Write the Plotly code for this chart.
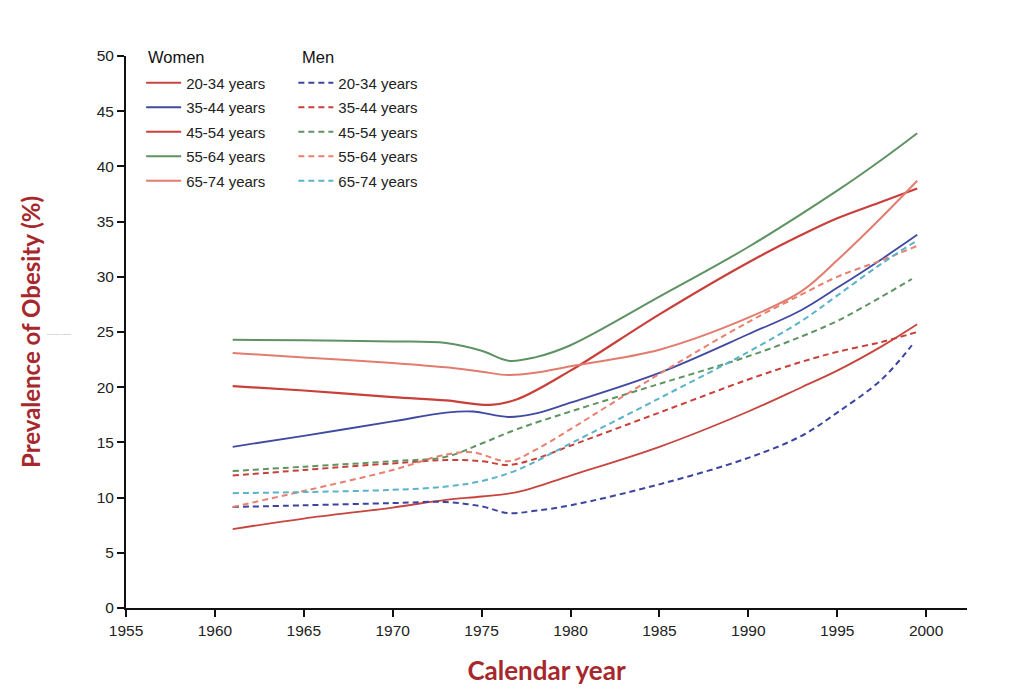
import plotly.graph_objects as go

# ---- data ----
age_groups = ["20-34 years", "35-44 years", "45-54 years", "55-64 years", "65-74 years"]

w20_years = [1961, 1965, 1970, 1973, 1975, 1977, 1980, 1985, 1990, 1993, 1995, 1997.5, 1999.5]
w20_vals  = [7.15, 8.1, 9.1, 9.8, 10.1, 10.5, 12.0, 14.6, 17.8, 20.0, 21.5, 23.7, 25.7]

w35_years = [1961, 1965, 1970, 1973, 1974.5, 1976.5, 1978, 1980, 1985, 1990, 1993, 1995, 1997.5, 1999.5]
w35_vals  = [14.6, 15.6, 16.9, 17.7, 17.8, 17.3, 17.6, 18.6, 21.3, 24.8, 27.0, 29.0, 31.6, 33.8]

w45_years = [1961, 1965, 1970, 1973, 1975.5, 1977, 1980, 1985, 1990, 1993, 1995, 1997.5, 1999.5]
w45_vals  = [20.1, 19.7, 19.1, 18.8, 18.4, 18.9, 21.5, 26.6, 31.3, 33.8, 35.3, 36.8, 38.0]

w55_years = [1961, 1965, 1970, 1973, 1975, 1976.5, 1978, 1980, 1985, 1990, 1995, 1997.5, 1999.5]
w55_vals  = [24.3, 24.25, 24.15, 24.0, 23.3, 22.4, 22.7, 23.8, 28.2, 32.7, 37.8, 40.6, 43.0]

w65_years = [1961, 1965, 1970, 1973, 1975, 1976.5, 1978, 1980, 1985, 1990, 1993, 1995, 1997.5, 1999.5]
w65_vals  = [23.1, 22.7, 22.2, 21.8, 21.4, 21.1, 21.3, 21.9, 23.4, 26.3, 28.7, 31.5, 35.4, 38.7]

m20_years = [1961, 1965, 1970, 1973, 1975, 1976.5, 1978, 1980, 1985, 1990, 1993, 1995, 1997.5, 1999.2]
m20_vals  = [9.15, 9.3, 9.5, 9.6, 9.2, 8.6, 8.8, 9.3, 11.2, 13.6, 15.6, 17.7, 20.7, 23.8]

m35_years = [1961, 1965, 1970, 1973, 1975, 1976.5, 1978, 1980, 1985, 1990, 1993, 1995, 1997.5, 1999.5]
m35_vals  = [12.0, 12.5, 13.1, 13.4, 13.3, 12.95, 13.5, 14.7, 17.7, 20.7, 22.3, 23.2, 24.1, 25.0]

m45_years = [1961, 1965, 1970, 1973, 1975, 1977, 1980, 1985, 1990, 1993, 1995, 1997.5, 1999.2]
m45_vals  = [12.4, 12.8, 13.3, 13.7, 14.9, 16.2, 17.8, 20.3, 22.8, 24.6, 26.0, 28.2, 29.8]

m55_years = [1961, 1965, 1970, 1973, 1974.5, 1976.5, 1978, 1980, 1985, 1990, 1993, 1995, 1997.5, 1999.5]
m55_vals  = [9.15, 10.6, 12.5, 13.9, 14.1, 13.3, 14.3, 16.2, 21.2, 25.9, 28.4, 30.0, 31.5, 32.8]

m65_years = [1961, 1965, 1970, 1973, 1975, 1977, 1980, 1985, 1990, 1993, 1995, 1997.5, 1999.5]
m65_vals  = [10.4, 10.5, 10.7, 11.0, 11.5, 12.5, 14.9, 19.0, 23.2, 26.0, 28.3, 31.2, 33.3]

x_ticks = [1955, 1960, 1965, 1970, 1975, 1980, 1985, 1990, 1995, 2000]
y_ticks = [0, 5, 10, 15, 20, 25, 30, 35, 40, 45, 50]

women = [(w20_years, w20_vals), (w35_years, w35_vals), (w45_years, w45_vals),
         (w55_years, w55_vals), (w65_years, w65_vals)]
men = [(m20_years, m20_vals), (m35_years, m35_vals), (m45_years, m45_vals),
       (m55_years, m55_vals), (m65_years, m65_vals)]

women_colors = ["#c8453f", "#3f4aa0", "#c9403a", "#5f9262", "#e27c6e"]
women_widths = [1.8, 1.8, 2.2, 2.0, 2.0]
men_colors = ["#3b45a0", "#c9403a", "#5f9462", "#e8806f", "#5ab3c9"]

fig = go.Figure()
for i, ((xs, ys), c, w) in enumerate(zip(women, women_colors, women_widths)):
    fig.add_trace(go.Scatter(x=xs, y=ys, mode="lines", name=age_groups[i],
                             line=dict(color=c, width=w, shape="spline", smoothing=1.0),
                             legend="legend", legendgroup="w%d" % i))
for i, ((xs, ys), c) in enumerate(zip(men, men_colors)):
    fig.add_trace(go.Scatter(x=xs, y=ys, mode="lines", name=age_groups[i],
                             line=dict(color=c, width=2.0, dash="6px,4px", shape="spline", smoothing=1.0),
                             legend="legend2", legendgroup="m%d" % i))

title_color = "#a6282c"
base_font = "Liberation Sans, Arial"
tick_font = dict(family=base_font, size=15.5, color="#222222")

leg_common = dict(font=dict(family=base_font, size=15, color="#222222"),
                  bgcolor="rgba(0,0,0,0)", traceorder="grouped", tracegroupgap=2,
                  xanchor="left", yanchor="top", itemwidth=35)

fig.update_layout(
    width=1016, height=688,
    margin=dict(l=118, r=57, t=48, b=88),
    paper_bgcolor="white", plot_bgcolor="white",
    showlegend=True,
    legend=dict(x=0.018, y=0.981, **leg_common),
    legend2=dict(x=0.199, y=0.981, **leg_common),
    xaxis=dict(range=[1955, 2002.3], tickmode="array", tickvals=x_ticks, automargin=False,
               showgrid=False, zeroline=False, showline=True, linecolor="#111", linewidth=2,
               ticks="outside", ticklen=7, tickwidth=2, tickcolor="#111", tickfont=tick_font,
               title=dict(text="<b>Calendar year</b>", standoff=24,
                          font=dict(family="Lato", size=26, color=title_color))),
    yaxis=dict(range=[0, 50], tickmode="array", tickvals=y_ticks, automargin=False,
               showgrid=False, zeroline=False, showline=True, linecolor="#111", linewidth=2,
               ticks="outside", ticklen=7, tickwidth=2, tickcolor="#111", tickfont=tick_font,
               title=dict(text="<b>Prevalence of Obesity (%)</b>", standoff=49,
                          font=dict(family="Lato", size=24, color=title_color))),
    annotations=[
        dict(text="Women", xref="paper", yref="paper", x=0.024, y=0.998,
             xanchor="left", yanchor="middle", showarrow=False,
             font=dict(family=base_font, size=16.5, color="#111111")),
        dict(text="Men", xref="paper", yref="paper", x=0.207, y=0.998,
             xanchor="left", yanchor="middle", showarrow=False,
             font=dict(family=base_font, size=16.5, color="#111111")),
        dict(text="Prevalence of Obesity", xref="paper", yref="paper", x=-0.079, y=0.495,
             xanchor="center", yanchor="middle", showarrow=False,
             font=dict(family=base_font, size=2.5, color="#999999")),
    ],
)

fig.write_html("out.html")
